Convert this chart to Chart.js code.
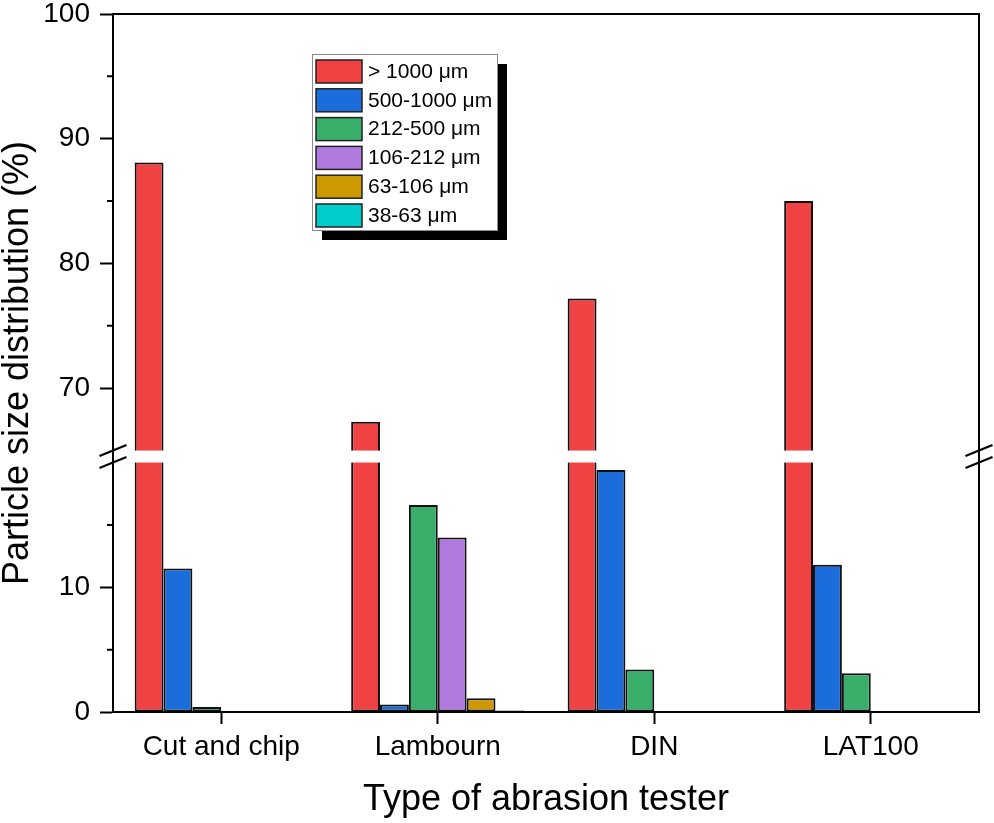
<!DOCTYPE html>
<html><head><meta charset="utf-8">
<script src="https://cdn.jsdelivr.net/npm/chart.js@4.4.1/dist/chart.umd.min.js"></script>
<style>html,body{margin:0;padding:0;background:#fff;}</style>
</head><body>
<canvas id="c" width="994" height="823"></canvas>
<script>
// ---- data ----
const categories = ['Cut and chip', 'Lambourn', 'DIN', 'LAT100'];
const seriesLabels = ['> 1000 \u03bcm', '500-1000 \u03bcm', '212-500 \u03bcm', '106-212 \u03bcm', '63-106 \u03bcm', '38-63 \u03bcm'];
const over1000 = [88.1, 67.3, 77.2, 85.0];
const from500to1000 = [11.5, 0.6, 19.4, 11.8];
const from212to500 = [0.4, 16.6, 3.4, 3.1];
const from106to212 = [0, 14.0, 0, 0.05];
const from63to106 = [0, 1.1, 0, 0];
const from38to63 = [0, 0.12, 0, 0];
const seriesColors = ['#F04242', '#1C6DDC', '#38AE6A', '#B07ADE', '#CC9900', '#00CCCC'];
const majorTicks = [0, 10, 70, 80, 90, 100];
const minorTicks = [5, 15, 75, 85, 95];
const lowerRange = [0, 20];
const upperRange = [65, 100];
const gapUnits = 0.96;

// ---- broken-axis mapping ----
function toAxis(v) {
  if (v <= lowerRange[1]) return v;
  if (v >= upperRange[0]) return lowerRange[1] + gapUnits + (v - upperRange[0]);
  return lowerRange[1] + gapUnits * (v - lowerRange[1]) / (upperRange[0] - lowerRange[1]);
}
function fromAxis(a) {
  if (a <= lowerRange[1]) return a;
  return a - lowerRange[1] - gapUnits + upperRange[0];
}

const FONT = "'Liberation Sans', Arial, sans-serif";
const allSeries = [over1000, from500to1000, from212to500, from106to212, from63to106, from38to63];

const breakPlugin = {
  id: 'breakPlugin',
  afterDatasetsDraw(chart) {
    const ctx = chart.ctx, y = chart.scales.y, a = chart.chartArea;
    const yTop = y.getPixelForValue(toAxis(upperRange[0]));
    const yBot = y.getPixelForValue(toAxis(lowerRange[1]));
    ctx.save();
    ctx.fillStyle = '#fff';
    ctx.fillRect(a.left + 2, yTop, a.right - a.left - 4, yBot - yTop);
    ctx.restore();
  },
  afterDraw(chart) {
    const ctx = chart.ctx, y = chart.scales.y, a = chart.chartArea;
    ctx.save();
    ctx.strokeStyle = '#000';
    ctx.lineWidth = 2;
    // top and right frame
    ctx.beginPath();
    ctx.moveTo(a.left, a.top); ctx.lineTo(a.right, a.top);
    ctx.moveTo(a.right, a.top - 1); ctx.lineTo(a.right, a.bottom);
    ctx.stroke();
    // minor ticks
    ctx.beginPath();
    minorTicks.forEach(v => {
      const p = y.getPixelForValue(toAxis(v));
      ctx.moveTo(a.left - 6, p); ctx.lineTo(a.left, p);
    });
    ctx.stroke();
    // break slashes
    const yTop = y.getPixelForValue(toAxis(upperRange[0]));
    const yBot = y.getPixelForValue(toAxis(lowerRange[1]));
    ctx.lineWidth = 2.2;
    ctx.beginPath();
    [a.left, a.right].forEach(x => {
      [yTop, yBot].forEach(yy => {
        ctx.moveTo(x - 13.5, yy + 5.5); ctx.lineTo(x + 13.5, yy - 5.5);
      });
    });
    ctx.stroke();
    ctx.restore();
  }
};

const legendPlugin = {
  id: 'boxLegend',
  afterDraw(chart) {
    const ctx = chart.ctx;
    const bx = 312, by = 54, bw = 185, bh = 176, sh = 10;
    ctx.save();
    ctx.fillStyle = '#000';
    ctx.fillRect(bx + sh, by + sh, bw, bh);
    ctx.fillStyle = '#fff';
    ctx.fillRect(bx, by, bw, bh);
    ctx.strokeStyle = '#8a8a8a';
    ctx.lineWidth = 1;
    ctx.strokeRect(bx + 0.5, by + 0.5, bw, bh);
    ctx.font = '21px ' + FONT;
    ctx.textBaseline = 'middle';
    chart.data.datasets.forEach((ds, i) => {
      const ry = by + 6 + i * 28.8;
      ctx.fillStyle = ds.backgroundColor;
      ctx.fillRect(bx + 4, ry, 46, 23);
      ctx.strokeStyle = '#222';
      ctx.lineWidth = 1.5;
      ctx.strokeRect(bx + 4, ry, 46, 23);
      ctx.fillStyle = '#000';
      ctx.fillText(ds.label, bx + 56, ry + 12);
    });
    ctx.restore();
  }
};

new Chart(document.getElementById('c'), {
  type: 'bar',
  data: {
    labels: categories,
    datasets: allSeries.map((s, i) => ({
      label: seriesLabels[i],
      data: s.map(toAxis),
      backgroundColor: seriesColors[i],
      borderColor: '#111',
      borderWidth: 2,
      borderSkipped: false,
      barPercentage: 1,
      categoryPercentage: 0.8
    }))
  },
  options: {
    responsive: false,
    animation: false,
    devicePixelRatio: 1,
    layout: { padding: { left: 0, top: 14, right: 15, bottom: 0 } },
    plugins: { legend: { display: false }, tooltip: { enabled: false } },
    scales: {
      x: {
        afterFit: s => { s.height = 111; s.paddingLeft = 0; s.paddingRight = 0; },
        grid: { offset: false, drawOnChartArea: false, drawTicks: true, tickLength: 12, tickWidth: 2, tickColor: '#000' },
        border: { display: true, color: '#000', width: 2 },
        ticks: { font: { family: FONT, size: 28 }, color: '#000', padding: 6, maxRotation: 0, autoSkip: false },
        title: { display: true, text: 'Type of abrasion tester', font: { family: FONT, size: 36 }, color: '#000', padding: { top: 0, bottom: 1 } }
      },
      y: {
        type: 'linear',
        min: 0,
        max: toAxis(upperRange[1]),
        afterBuildTicks: s => { s.ticks = majorTicks.map(v => ({ value: toAxis(v) })); },
        afterFit: s => { s.width = 113; s.paddingTop = 0; s.paddingBottom = 0; },
        grid: { drawOnChartArea: false, drawTicks: true, tickLength: 13, tickWidth: 2, tickColor: '#000' },
        border: { display: true, color: '#000', width: 2 },
        ticks: { font: { family: FONT, size: 28 }, color: '#000', padding: 10,
                 callback: v => String(Math.round(fromAxis(v))) },
        title: { display: true, text: 'Particle size distribution (%)', font: { family: FONT, size: 36, lineHeight: 1 }, color: '#000', padding: 0 }
      }
    }
  },
  plugins: [breakPlugin, legendPlugin]
});
</script>
</body></html>
